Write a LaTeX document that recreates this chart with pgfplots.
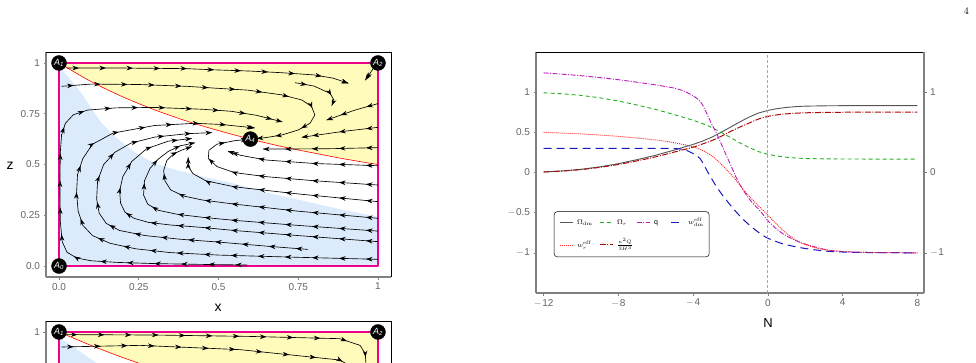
\documentclass[border=0pt]{standalone}
\usepackage{fontspec}
\setsansfont{Liberation Sans}
\usepackage{pgfplots}
\pgfplotsset{compat=1.18}
\usetikzlibrary{decorations.markings,arrows.meta}

\definecolor{fillyellow}{RGB}{255,251,187}
\definecolor{fillblue}{RGB}{220,235,251}
\definecolor{axgray}{RGB}{128,128,128}
\definecolor{tickgray}{RGB}{100,100,100}
\definecolor{omdm}{RGB}{85,85,85}
\definecolor{omr}{RGB}{35,175,35}
\definecolor{qcol}{RGB}{185,25,185}
\definecolor{wdm}{RGB}{25,25,185}
\definecolor{wr}{RGB}{255,35,35}
\definecolor{kq}{RGB}{170,10,10}

\newcommand{\mn}{$-$\kern0.6pt}
% one legend entry: fixed-width box holding a line sample and its text
\newcommand{\lgitem}[3]{\makebox[#1][l]{\tikz[baseline=-0.6ex]\draw[#2] (0pt,0pt) -- (13pt,0pt);\hspace{4pt}#3}}

\tikzset{
  stream/.style={black, line width=0.65pt, postaction={decorate},
    decoration={markings,
      mark=between positions 12pt and 1 step 27pt with {\arrow{Stealth[length=6.5pt,width=4.6pt]}},
      mark=at position 1 with {\arrow{Stealth[length=6.5pt,width=4.6pt]}}}},
  sOmdm/.style={omdm, line width=0.9pt},
  sOmr/.style={omr, line width=0.9pt, dash pattern=on 4pt off 3pt},
  sQ/.style={qcol, line width=0.9pt, dash pattern=on 5pt off 1.5pt on 1pt off 1.5pt},
  sWdm/.style={wdm, line width=1pt, dash pattern=on 8pt off 5pt},
  sWr/.style={wr, line width=0.9pt, dash pattern=on 1pt off 1pt},
  sKq/.style={kq, line width=1pt, dash pattern=on 6pt off 1.5pt on 1pt off 1.5pt},
}

\pgfplotsset{
  framed/.style={scale only axis,
    axis x line*=bottom, axis y line*=left,
    axis line style={-, axgray, line width=1.3pt},
    tick style={axgray, line width=0.6pt}, major tick length=2.5pt, tick align=outside,
    ticklabel style={font=\sffamily\fontsize{10}{11}\selectfont, text=tickgray},
    clip=false},
  phase/.style={framed, width=345pt, height=225pt,
    xmin=-0.0408, xmax=1.0408, ymin=-0.054, ymax=1.054},
  fixedpt/.style={only marks, mark=*, mark size=7.5pt, black,
    nodes near coords, point meta=explicit symbolic,
    every node near coord/.append style={anchor=center, text=white, inner sep=0pt,
      font=\sffamily\itshape\fontsize{9}{9}\selectfont}},
}

\begin{document}
\begin{tikzpicture}
\useasboundingbox (0pt,0pt) rectangle (976pt,362pt);
\clip (0pt,0pt) rectangle (976pt,362pt);

\node[anchor=base east, font=\fontsize{10}{12}\selectfont, inner sep=0pt] at (969pt,347pt) {4};

% ---------- phase portrait (x, z) ----------
\begin{axis}[phase, at={(46pt,85pt)}, anchor=south west,
  xtick={0,0.25,0.5,0.75,1}, xticklabels={0.0,0.25,0.5,0.75,1},
  ytick={0,0.25,0.5,0.75,1}, yticklabels={0.0,0.25,0.5,0.75,1},
  xlabel={x}, ylabel={z},
  label style={font=\sffamily\fontsize{14}{14}\selectfont},
  xlabel style={at={(axis description cs:0.4986,-0.138)}, anchor=center},
  ylabel style={at={(axis description cs:-0.104,0.493)}, anchor=center, rotate=-90}]
% regions
\addplot[fill=fillblue, draw=none] coordinates {(0,0)(0,0.985)(0.035,0.92)(0.071,0.85)(0.1,0.78)(0.134,0.703)(0.18,0.632)(0.228,0.571)(0.27,0.53)(0.311,0.5)(0.37,0.472)(0.43,0.448)(0.546,0.407)(0.65,0.362)(0.755,0.325)(0.88,0.28)(1,0.243)(1,0)};
\addplot[fill=fillyellow, draw=none] coordinates {(0,1)(0.1,0.909)(0.2,0.833)(0.3,0.769)(0.4,0.714)(0.5,0.667)(0.6,0.625)(0.7,0.588)(0.8,0.556)(0.9,0.526)(1,0.5)(1,1)};
\addplot[red, line width=0.6pt, smooth] coordinates {(0,1)(0.1,0.909)(0.2,0.833)(0.3,0.769)(0.4,0.714)(0.5,0.667)(0.6,0.625)(0.7,0.588)(0.8,0.556)(0.9,0.526)(1,0.5)};
\addplot[magenta, line width=1.4pt, line join=round] coordinates {(0,0)(1,0)(1,1)(0,1)(0,0)};
\draw[black, line width=0.5pt] (rel axis cs:0,1) -- (rel axis cs:1,1) -- (rel axis cs:1,0);
% streamlines
\addplot[stream] coordinates {(0.025,0.975)(0.2,0.975)(0.4,0.972)(0.489,0.966)(0.6,0.96)(0.698,0.952)(0.8,0.941)(0.86,0.925)(0.907,0.9)};
\addplot[stream] coordinates {(0.008,0.885)(0.1,0.896)(0.25,0.894)(0.4,0.885)(0.489,0.876)(0.593,0.866)(0.698,0.843)(0.761,0.818)(0.792,0.785)(0.802,0.744)(0.787,0.703)(0.75,0.67)(0.698,0.645)(0.646,0.632)(0.62,0.628)};
\addplot[stream] coordinates {(0.74,0.903)(0.8,0.886)(0.85,0.85)(0.862,0.817)(0.855,0.79)};
\addplot[stream] coordinates {(0.985,0.972)(0.96,0.915)};
\addplot[stream] coordinates {(1,0.80)(0.928,0.768)(0.839,0.719)};
\addplot[stream] coordinates {(1,0.683)(0.886,0.662)(0.761,0.634)};
\addplot[stream] coordinates {(1,0.583)(0.855,0.578)(0.7,0.576)(0.64,0.576)};
\addplot[stream] coordinates {(1,0.494)(0.8,0.505)(0.65,0.522)(0.57,0.545)(0.53,0.565)};
\addplot[stream] coordinates {(1,0.399)(0.8,0.42)(0.65,0.44)(0.55,0.46)(0.495,0.49)(0.468,0.53)(0.47,0.57)(0.495,0.6)(0.55,0.617)(0.59,0.624)};
\addplot[stream] coordinates {(1,0.317)(0.75,0.355)(0.55,0.39)(0.46,0.42)(0.42,0.455)(0.405,0.49)(0.405,0.535)};
\addplot[stream] coordinates {(1,0.235)(0.75,0.27)(0.55,0.305)(0.45,0.325)(0.39,0.345)(0.35,0.375)(0.332,0.42)(0.328,0.47)(0.338,0.52)(0.36,0.553)(0.385,0.571)(0.416,0.588)};
\addplot[stream] coordinates {(1,0.172)(0.75,0.2)(0.55,0.225)(0.45,0.24)(0.37,0.255)(0.31,0.275)(0.278,0.305)(0.265,0.35)(0.268,0.42)(0.285,0.48)(0.31,0.525)(0.343,0.565)(0.38,0.592)(0.426,0.607)};
\addplot[stream] coordinates {(1,0.12)(0.75,0.15)(0.55,0.175)(0.45,0.19)(0.35,0.202)(0.28,0.215)(0.235,0.235)(0.207,0.265)(0.193,0.31)(0.19,0.37)(0.2,0.44)(0.228,0.515)(0.275,0.578)(0.343,0.615)(0.416,0.628)};
\addplot[stream] coordinates {(0.78,0.082)(0.65,0.098)(0.5,0.118)(0.38,0.132)(0.27,0.15)(0.19,0.175)(0.148,0.21)(0.126,0.26)(0.118,0.33)(0.121,0.42)(0.14,0.5)(0.175,0.56)(0.225,0.605)(0.30,0.635)(0.405,0.652)(0.479,0.657)};
\addplot[stream] coordinates {(1,0.033)(0.75,0.043)(0.5,0.054)(0.35,0.066)(0.24,0.085)(0.16,0.112)(0.105,0.15)(0.075,0.2)(0.06,0.27)(0.055,0.36)(0.058,0.45)(0.075,0.53)(0.105,0.6)(0.17,0.655)(0.3,0.692)(0.426,0.703)(0.51,0.697)(0.614,0.68)};
\addplot[stream] coordinates {(0.59,0.005)(0.45,0.008)(0.3,0.012)(0.18,0.018)(0.1,0.026)(0.055,0.04)(0.025,0.068)(0.01,0.12)(0.004,0.22)(0.003,0.4)(0.004,0.56)(0.008,0.645)(0.02,0.703)(0.045,0.745)(0.09,0.768)(0.18,0.779)(0.3,0.781)(0.45,0.772)(0.54,0.762)(0.62,0.742)(0.7,0.71)};
% fixed points
\addplot[fixedpt] coordinates {(0,0)[A\textsubscript{0}] (0,1)[A\textsubscript{1}] (1,1)[A\textsubscript{2}] (0.6,0.625)[A\textsubscript{4}]};
\end{axis}

% ---------- second phase portrait (only its top strip is on the page) ----------
\begin{axis}[phase, at={(46pt,-184pt)}, anchor=south west,
  xtick=\empty, ytick={1}, yticklabels={1}]
\addplot[fill=fillblue, draw=none] coordinates {(0,0)(0,0.975)(0.113,0.852)(0.2,0.76)(0.3,0.68)(0.5,0.55)(0.75,0.42)(1,0.3)(1,0)};
\addplot[fill=fillyellow, draw=none] coordinates {(0,1)(0.1,0.934)(0.2,0.874)(0.3,0.82)(0.4,0.77)(0.5,0.725)(0.7,0.645)(1,0.55)(1,1)};
\addplot[red, line width=0.6pt, smooth] coordinates {(0,1)(0.1,0.934)(0.2,0.874)(0.3,0.82)(0.4,0.77)(0.5,0.725)(0.7,0.645)(1,0.55)};
\addplot[magenta, line width=1.4pt, line join=round] coordinates {(0,0)(1,0)(1,1)(0,1)(0,0)};
\draw[black, line width=0.5pt] (rel axis cs:0,1) -- (rel axis cs:1,1) -- (rel axis cs:1,0);
\addplot[stream] coordinates {(0.02,0.987)(0.3,0.985)(0.6,0.978)(0.88,0.967)(0.944,0.934)(0.96,0.893)(0.962,0.85)(0.96,0.8)};
\addplot[stream] coordinates {(0.008,0.926)(0.254,0.934)(0.567,0.913)(0.88,0.862)(0.95,0.8)(0.96,0.7)};
\addplot[fixedpt] coordinates {(0,1)[A\textsubscript{1}] (1,1)[A\textsubscript{2}]};
\end{axis}

% ---------- evolution in N ----------
\begin{axis}[framed, at={(536pt,69pt)}, anchor=south west, width=388pt, height=241pt,
  xmin=-12.41, xmax=8.36, ymin=-1.5, ymax=1.5,
  xtick={-12,-8,-4,0,4,8}, xticklabels={\mn12,\mn8,\mn4,0,4,8},
  ytick={-1,-0.5,0,0.5,1}, yticklabels={\mn1,\mn0.5,0,0.5,1},
  xlabel={N},
  xlabel style={font=\sffamily\fontsize{13}{13}\selectfont, at={(axis description cs:0.598,-0.124)}, anchor=center}]
\addplot[sOmdm] coordinates {(-12,.008)(-11,.02)(-10,.04)(-9,.07)(-8,.11)(-7,.16)(-6,.215)(-5,.28)(-4.5,.315)(-4,.35)(-3.5,.39)(-3,.44)(-2.5,.5)(-2,.565)(-1.5,.63)(-1,.69)(-0.5,.74)(0,.773)(0.5,.795)(1,.81)(1.5,.82)(2,.826)(3,.83)(4,.832)(6,.833)(8,.833)};
\addplot[sOmr] coordinates {(-12,.992)(-11,.98)(-10,.96)(-9,.93)(-8,.89)(-7,.84)(-6,.785)(-5,.72)(-4.5,.685)(-4,.65)(-3.5,.61)(-3,.56)(-2.5,.5)(-2,.435)(-1.5,.37)(-1,.31)(-0.5,.26)(0,.227)(0.5,.205)(1,.19)(1.5,.18)(2,.174)(3,.17)(4,.168)(6,.167)(8,.167)};
\addplot[sQ, smooth] coordinates {(-12,1.24)(-10,1.205)(-8,1.155)(-6,1.09)(-5,1.05)(-4.5,1.015)(-4.2,.98)(-3.9,.94)(-3.6,.88)(-3.4,.8)(-3.2,.7)(-3,.6)(-2.75,.49)(-2.5,.36)(-2.2,.2)(-2,.1)(-1.67,-.075)(-1.4,-.19)(-1.13,-.285)(-0.85,-.37)(-0.6,-.43)(-0.3,-.51)(0,-.6)(0.4,-.69)(0.83,-.766)(1.3,-.825)(1.72,-.87)(2.2,-.905)(2.62,-.933)(3,-.955)(3.5,-.975)(4.5,-.99)(6,-.998)(8,-1)};
\addplot[sWdm, smooth] coordinates {(-12,.3)(-8,.3)(-6,.3)(-5,.298)(-4.6,.29)(-4.35,.275)(-4,.235)(-3.63,.175)(-3.2,.0)(-2.74,-.18)(-2.3,-.32)(-1.85,-.45)(-1.4,-.565)(-0.96,-.66)(-0.5,-.745)(-0.07,-.81)(0.4,-.855)(0.83,-.89)(1.72,-.935)(2.6,-.965)(3.5,-.985)(5,-.995)(8,-1)};
\addplot[sWr, smooth] coordinates {(-12,.5)(-10,.48)(-8,.45)(-6,.405)(-5,.37)(-4,.32)(-3.5,.275)(-2.93,.196)(-2.4,.08)(-1.85,-.055)(-1.4,-.185)(-0.96,-.306)(-0.5,-.415)(-0.07,-.515)(0.4,-.625)(0.83,-.724)(1.3,-.81)(1.72,-.87)(2.6,-.94)(3.5,-.975)(5,-.993)(8,-1)};
\addplot[sKq, smooth] coordinates {(-12,.006)(-11,.018)(-10,.036)(-9,.064)(-8,.1)(-7,.145)(-6,.195)(-5,.255)(-4.5,.285)(-4,.315)(-3.5,.355)(-3,.397)(-2.5,.45)(-2,.51)(-1.5,.565)(-1,.615)(-0.5,.665)(0,.698)(0.5,.718)(1,.73)(1.5,.738)(2,.743)(3,.748)(4,.75)(6,.752)(8,.752)};
\addplot[axgray!70, line width=0.8pt, dash pattern=on 3pt off 2pt] coordinates {(0,-1.5)(0,1.5)};
\draw[black, line width=0.5pt] (rel axis cs:0,1) -- (rel axis cs:1,1);
% legend box
\node[draw=black, line width=0.5pt, rounded corners=3pt, anchor=south west, fill=white,
  inner xsep=5pt, inner ysep=6pt, font=\sffamily\fontsize{7}{8}\selectfont]
  at (axis cs:-11.45,-1.052) {%
  \begin{tabular}{@{}l@{}l@{}l@{}l@{}}
  \lgitem{40pt}{sOmdm}{$\Omega_{\mathrm{dm}}$} & \lgitem{37pt}{sOmr}{$\Omega_r$} & \lgitem{34pt}{sQ}{q} & \lgitem{34pt}{sWdm}{$w^{\mathrm{eff}}_{\mathrm{dm}}$}\\[12pt]
  \lgitem{40pt}{sWr}{$w^{\mathrm{eff}}_{r}$} & \lgitem{37pt}{sKq}{$\frac{\kappa^2 Q}{3H^3}$} & & \\
  \end{tabular}};
\end{axis}
\begin{axis}[framed, at={(536pt,69pt)}, anchor=south west, width=388pt, height=241pt,
  xmin=-12.41, xmax=8.36, ymin=-1.5, ymax=1.5,
  axis x line=none, axis y line*=right,
  ytick={-1,0,1}, yticklabels={\mn1,0,1}]
\end{axis}
\end{tikzpicture}
\end{document}
